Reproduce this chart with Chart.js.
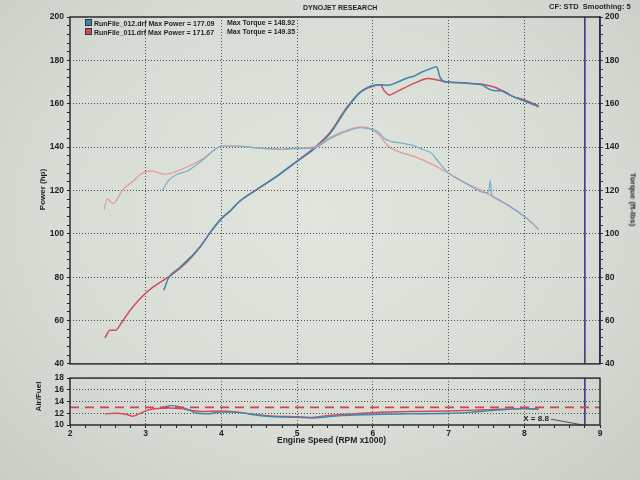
<!DOCTYPE html>
<html lang="en">
<head>
<meta charset="UTF-8">
<title>Dynojet Research</title>
<style>
    body {
        margin: 0;
        background: #d3d9d0;
        font-family: "Liberation Sans", Arial, sans-serif;
    }
    #wrap {
        position: relative;
        width: 640px;
        height: 480px;
        overflow: hidden;
        background: radial-gradient(ellipse at 50% 45%, #e0e5dd 0%, #d7ddd4 60%, #c8cec5 100%);
    }
    canvas {
        position: absolute;
        left: 0;
    }
    .lbl {
        position: absolute;
        font-weight: bold;
        color: #1e1e24;
        white-space: nowrap;
    }
    .sq {
        display: inline-block;
        width: 5px;
        height: 5px;
        margin-right: 2px;
        vertical-align: 0px;
        border: 1px solid #333;
    }
    .rot {
        width: 100px;
        text-align: center;
    }
</style>
</head>
<body>
<div id="wrap">
    <canvas id="mainChart" width="640" height="372" style="top:0"></canvas>
    <canvas id="afrChart" width="640" height="110" style="top:370px"></canvas>

    <div class="lbl" style="left:303px;top:4px;font-size:7px">DYNOJET RESEARCH</div>
    <div class="lbl" style="left:549px;top:2px;font-size:7.5px">CF: STD&nbsp; Smoothing: 5</div>

    <div class="lbl" style="left:85px;top:19px;font-size:7px"><span class="sq" style="background:#3a86b0"></span>RunFile_012.drf Max Power = 177.09</div>
    <div class="lbl" style="left:227px;top:19px;font-size:7px">Max Torque = 148.92</div>
    <div class="lbl" style="left:85px;top:28px;font-size:7px"><span class="sq" style="background:#d44a5a"></span>RunFile_011.drf Max Power = 171.67</div>
    <div class="lbl" style="left:227px;top:28px;font-size:7px">Max Torque = 149.35</div>

    <div class="lbl rot" style="left:-8px;top:185px;font-size:8px;transform:rotate(-90deg)">Power (hp)</div>
    <div class="lbl rot" style="left:583px;top:195px;font-size:8px;transform:rotate(90deg)">Torque (ft-lbs)</div>
    <div class="lbl rot" style="left:-12px;top:392px;font-size:8px;transform:rotate(-90deg)">Air/Fuel</div>
    <div class="lbl" style="left:277px;top:435px;font-size:8.5px">Engine Speed (RPM x1000)</div>
</div>

<script src="https://cdn.jsdelivr.net/npm/chart.js"></script>
<script>
// ---- data ----
const rpmTickLabels = [2, 3, 4, 5, 6, 7, 8, 9];
const powerTickLabels = [40, 60, 80, 100, 120, 140, 160, 180, 200];
const afrTickLabels = [10, 12, 14, 16, 18];

// RunFile_011 (red)
const redPowerRpm = [2.46, 2.53, 2.6, 2.68, 2.8, 2.95, 3.1, 3.23, 3.3, 3.45, 3.6, 3.73, 3.86, 4.0, 4.13, 4.24, 4.47, 4.73, 4.96, 5.22, 5.44, 5.66, 5.84, 6.02, 6.1, 6.15, 6.22, 6.33, 6.55, 6.73, 6.87, 7.0, 7.22, 7.44, 7.62, 7.84, 8.02, 8.19];
const redPower = [52, 55.5, 55.5, 59, 65, 71, 75.5, 78.5, 80, 84, 89, 94.5, 101, 107, 111, 115, 120.5, 126.5, 132.5, 139.5, 147, 158.5, 165.5, 168.3, 168.7, 166, 164, 165.8, 169.5, 171.67, 170.8, 170, 169.5, 169, 167.5, 163.5, 161.5, 159];
const redTorqueRpm = [2.45, 2.49, 2.57, 2.7, 2.84, 2.93, 3.07, 3.25, 3.52, 3.75, 3.9, 4.0, 4.2, 4.5, 4.8, 5.0, 5.22, 5.44, 5.67, 5.84, 5.93, 6.07, 6.2, 6.33, 6.56, 6.87, 7.02, 7.22, 7.49, 7.76, 8.02, 8.19];
const redTorque = [111, 116, 114, 120.5, 124.5, 127.5, 129, 127.5, 130.5, 134.5, 138.5, 140.5, 140.5, 139.5, 139, 139.5, 140, 144.5, 148, 149.35, 149, 146, 140.5, 138, 135.5, 130.5, 127.5, 123.5, 119, 113.5, 107.5, 102];
const redAfrRpm = [2.46, 2.6, 2.75, 2.83, 2.91, 3.04, 3.3, 3.45, 3.6, 3.74, 4.0, 4.2, 4.39, 4.6, 5.0, 5.17, 5.4, 5.6, 6.0, 6.5, 7.0, 7.5, 8.0, 8.19];
const redAfr = [11.9, 12.0, 11.8, 11.5, 11.9, 12.6, 12.9, 12.8, 12.5, 12.3, 12.4, 12.2, 11.9, 11.6, 11.4, 11.3, 11.6, 11.8, 12.1, 12.3, 12.4, 12.6, 12.8, 12.7];

// RunFile_012 (blue)
const bluePowerRpm = [3.24, 3.3, 3.45, 3.6, 3.73, 3.86, 4.0, 4.13, 4.24, 4.47, 4.73, 4.96, 5.22, 5.44, 5.66, 5.84, 6.02, 6.1, 6.2, 6.33, 6.46, 6.55, 6.64, 6.75, 6.84, 6.89, 6.96, 7.1, 7.3, 7.44, 7.55, 7.62, 7.7, 7.84, 8.02, 8.19];
const bluePower = [74, 79.5, 84.5, 89.5, 94.5, 101, 107, 111, 115, 120.5, 126.5, 132.5, 139, 146.5, 158, 165.5, 168.5, 168.7, 168.5, 170, 172, 172.8, 174.5, 176, 177.09, 172, 170, 169.8, 169.3, 168.7, 166.5, 166, 166, 163.5, 161, 158.5];
const blueTorqueRpm = [3.22, 3.3, 3.42, 3.55, 3.75, 3.9, 4.0, 4.2, 4.5, 4.8, 5.0, 5.22, 5.44, 5.67, 5.84, 5.93, 6.07, 6.15, 6.25, 6.35, 6.5, 6.65, 6.78, 6.85, 6.92, 7.0, 7.22, 7.49, 7.53, 7.55, 7.57, 7.62, 7.7, 7.8, 8.02, 8.19];
const blueTorque = [120, 124.5, 127.5, 129, 134, 138.5, 140.5, 140.5, 139.5, 139, 139.3, 139.6, 144, 147.5, 148.92, 148.6, 147, 144, 142.5, 142, 141, 139, 137, 134, 131, 128, 123.5, 119, 119.5, 124.5, 118, 116.5, 115, 113, 107.5, 102];
const blueAfrRpm = [3.2, 3.35, 3.45, 3.57, 3.65, 3.8, 4.0, 4.2, 4.4, 4.6, 5.0, 5.2, 5.4, 5.6, 6.0, 6.5, 7.0, 7.3, 7.6, 8.0, 8.19];
const blueAfr = [12.9, 13.3, 13.1, 12.6, 12.1, 11.9, 12.2, 12.2, 11.8, 11.5, 11.3, 11.2, 11.4, 11.6, 11.8, 11.9, 12.0, 12.2, 12.5, 12.8, 12.7];

const afrTarget = 13;
const markerRpm = 8.8;

// ---- helpers ----
const ink = '#1e1e24';
const dotColor = 'rgba(30,30,40,0.75)';
const tickFont = { family: 'Liberation Sans', size: 8.5, weight: 'bold' };

function pts(xs, ys) {
    return xs.map((x, i) => ({ x: x, y: ys[i] }));
}
function isWhole(v) {
    return Math.abs(v - Math.round(v)) < 1e-6;
}
function line(data, color, width, axis) {
    return {
        data: data, borderColor: color, borderWidth: width, pointRadius: 0,
        cubicInterpolationMode: 'monotone', yAxisID: axis || 'y'
    };
}

const pMin = powerTickLabels[0], pMax = powerTickLabels[powerTickLabels.length - 1];
const aMin = afrTickLabels[0], aMax = afrTickLabels[afrTickLabels.length - 1];
const xMin = rpmTickLabels[0], xMax = rpmTickLabels[rpmTickLabels.length - 1];

// frame around plot area + the X = 8.8 note
const framePlugin = {
    id: 'frame',
    afterDatasetsDraw(chart) {
        const a = chart.chartArea, c = chart.ctx;
        c.save();
        c.strokeStyle = '#2a2a33';
        c.lineWidth = 1.5;
        c.strokeRect(a.left, a.top, a.right - a.left, a.bottom - a.top);
        if (chart.canvas.id === 'afrChart') {
            const x = chart.scales.x.getPixelForValue(markerRpm);
            const y = chart.scales.y.getPixelForValue(11);
            c.font = 'bold 8px "Liberation Sans"';
            c.fillStyle = ink;
            c.textAlign = 'right';
            c.textBaseline = 'middle';
            c.fillText('X = ' + markerRpm, x - 36, y);
            c.lineWidth = 0.8;
            c.beginPath();
            c.moveTo(x - 34, y);
            c.lineTo(x - 2, a.bottom);
            c.stroke();
        }
        c.restore();
    }
};

const xGrid = {
    color: ctx => (ctx.tick && isWhole(ctx.tick.value) && ctx.tick.value > xMin && ctx.tick.value < xMax) ? dotColor : 'transparent',
    lineWidth: 1
};

// ---- power / torque ----
new Chart(document.getElementById('mainChart'), {
    type: 'line',
    data: {
        datasets: [
            line(pts(blueTorqueRpm, blueTorque), '#78aec9', 1.2, 'yT'),
            line(pts(redTorqueRpm, redTorque), '#e8949d', 1.2, 'yT'),
            line(pts(bluePowerRpm, bluePower), '#3a86b0', 1.5),
            line(pts(redPowerRpm, redPower), '#d44a5a', 1.5),
            line(pts([markerRpm, markerRpm], [pMin, pMax]), '#2b3184', 1.5)
        ]
    },
    options: {
        responsive: false,
        animation: false,
        layout: { padding: { top: 17, bottom: 4, left: 0, right: 0 } },
        plugins: { legend: { display: false }, tooltip: { enabled: false } },
        scales: {
            x: {
                type: 'linear', min: xMin, max: xMax,
                afterBuildTicks: s => { s.ticks = rpmTickLabels.map(v => ({ value: v })); },
                afterFit: s => { s.height = 0; },
                ticks: { display: false },
                grid: Object.assign({ drawTicks: false }, xGrid),
                border: { display: false, dash: [1, 2] }
            },
            y: {
                type: 'linear', position: 'left', min: pMin, max: pMax,
                afterBuildTicks: s => {
                    const t = [];
                    for (let v = pMin; v <= pMax; v += 4) t.push({ value: v });
                    s.ticks = t;
                },
                afterFit: s => { s.width = 70; },
                ticks: {
                    autoSkip: false, color: ink, font: tickFont, padding: 3,
                    callback: v => powerTickLabels.includes(v) ? v : ''
                },
                grid: {
                    color: ctx => (ctx.tick && powerTickLabels.includes(ctx.tick.value) && ctx.tick.value > pMin && ctx.tick.value < pMax) ? dotColor : 'transparent',
                    tickColor: ink, tickLength: 3
                },
                border: { display: false, dash: [1, 2] }
            },
            yT: {
                type: 'linear', position: 'right', min: pMin, max: pMax,
                afterBuildTicks: s => {
                    const t = [];
                    for (let v = pMin; v <= pMax; v += 4) t.push({ value: v });
                    s.ticks = t;
                },
                afterFit: s => { s.width = 40; },
                ticks: {
                    autoSkip: false, color: ink, font: tickFont, padding: 2,
                    callback: v => powerTickLabels.includes(v) ? v : ''
                },
                grid: { drawOnChartArea: false, tickColor: '#2b3184', tickLength: 3 },
                border: { display: true, color: '#2b3184', width: 1.5 }
            }
        }
    },
    plugins: [framePlugin]
});

// ---- air / fuel ----
const target = line(pts([xMin, xMax], [afrTarget, afrTarget]), '#d8404f', 1.6);
target.borderDash = [9, 6];

new Chart(document.getElementById('afrChart'), {
    type: 'line',
    data: {
        datasets: [
            target,
            line(pts(blueAfrRpm, blueAfr), '#3a86b0', 1.4),
            line(pts(redAfrRpm, redAfr), '#d44a5a', 1.4),
            line(pts([markerRpm, markerRpm], [aMin, aMax]), '#2b3184', 1.5)
        ]
    },
    options: {
        responsive: false,
        animation: false,
        layout: { padding: { top: 5, bottom: 31, left: 0, right: 0 } },
        plugins: { legend: { display: false }, tooltip: { enabled: false } },
        scales: {
            x: {
                type: 'linear', min: xMin, max: xMax,
                afterBuildTicks: s => {
                    const t = [];
                    for (let i = 0; i <= (xMax - xMin) * 5; i++) t.push({ value: xMin + i / 5 });
                    s.ticks = t;
                },
                afterFit: s => { s.height = 24; },
                ticks: {
                    autoSkip: false, maxRotation: 0, color: ink, font: tickFont, padding: 1,
                    callback: v => isWhole(v) && rpmTickLabels.includes(Math.round(v)) ? Math.round(v) : ''
                },
                grid: Object.assign({ tickColor: ink, tickLength: 3 }, xGrid),
                border: { display: false, dash: [1, 2] }
            },
            y: {
                type: 'linear', position: 'left', min: aMin, max: aMax,
                afterBuildTicks: s => { s.ticks = afrTickLabels.map(v => ({ value: v })); },
                afterFit: s => { s.width = 70; },
                ticks: { autoSkip: false, color: ink, font: tickFont, padding: 3 },
                grid: {
                    color: ctx => (ctx.tick && ctx.tick.value > aMin && ctx.tick.value < aMax) ? dotColor : 'transparent',
                    tickColor: ink, tickLength: 3
                },
                border: { display: false, dash: [1, 2] }
            },
            yR: {
                type: 'linear', position: 'right', min: aMin, max: aMax,
                afterFit: s => { s.width = 40; },
                ticks: { display: false },
                grid: { display: false },
                border: { display: false }
            }
        }
    },
    plugins: [framePlugin]
});
</script>
</body>
</html>
